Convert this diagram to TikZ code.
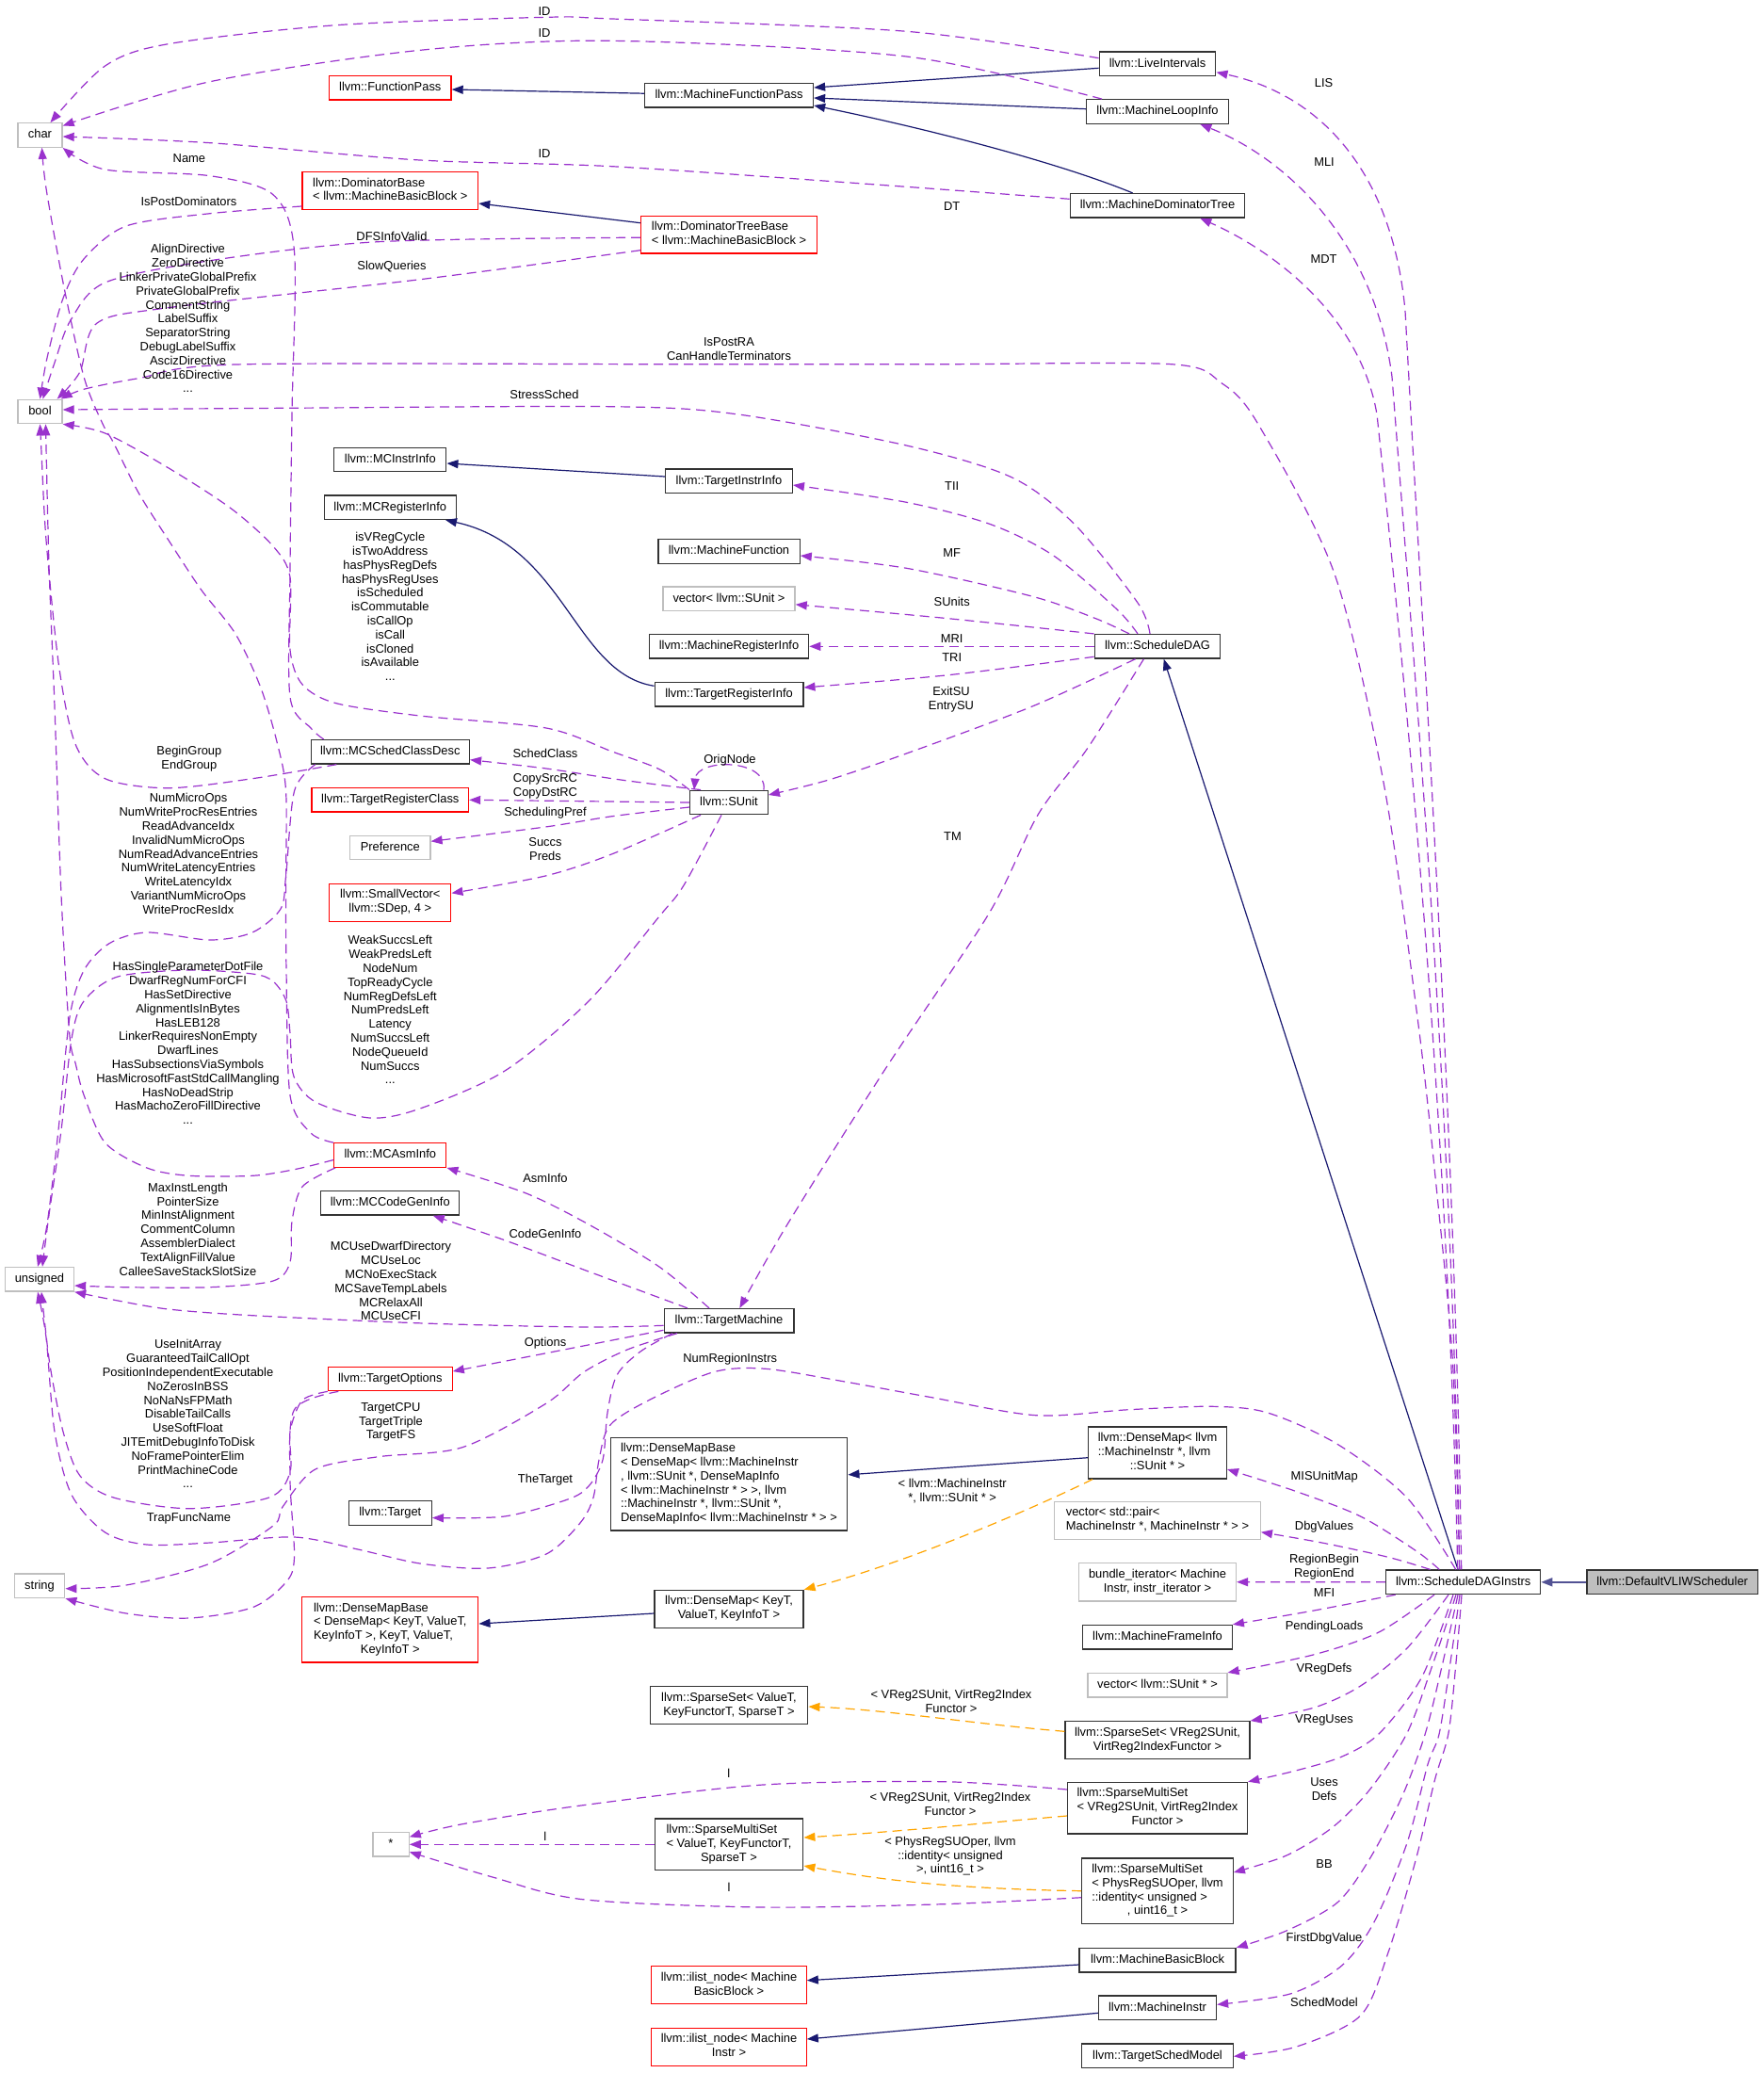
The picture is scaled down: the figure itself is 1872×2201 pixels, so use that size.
\documentclass[tikz,border=0pt]{standalone}
\usepackage{fontspec}
\setmainfont{Liberation Sans}
\usetikzlibrary{arrows.meta}
\definecolor{ecol}{HTML}{9A32CD}
\definecolor{icol}{HTML}{191970}
\definecolor{tcol}{HTML}{FFA500}
\definecolor{gcol}{HTML}{BFBFBF}
\definecolor{kcol}{HTML}{333333}
\newcommand{\ml}[2]{\begin{tabular}{@{}l@{}}#1\\\multicolumn{1}{@{}c@{}}{#2}\end{tabular}}
\tikzset{
  box/.style={line width=1.3pt, fill=white, inner sep=0pt},
  one/.style={minimum height=25.5pt, text height=9.4pt, text depth=2.6pt},
  blk/.style={draw=kcol},
  rdb/.style={draw=red},
  gyb/.style={draw=gcol},
  lab/.style={inner sep=0pt, align=center},
  tip/.style={-{Triangle[length=12pt,width=9pt]}},
  ue/.style={draw=ecol, line width=1.2pt, dash pattern=on 10pt off 6pt, tip},
  ie/.style={draw=icol, line width=1.2pt, tip},
  te/.style={draw=tcol, line width=1.2pt, dash pattern=on 10pt off 6pt, tip},
}
\begin{document}
\begin{tikzpicture}[x=1pt,y=-1pt,font=\fontsize{12.9pt}{14.8pt}\selectfont]
\useasboundingbox (0,0) rectangle (1872,2201);
\fill[white] (0,0) rectangle (1872,2201);

% ---------- column A
\node[box,one,gyb,minimum width=47pt] (char) at (42.5,143.5) {char};
\node[box,one,gyb,minimum width=47pt] (bool) at (42.5,437) {bool};
\node[box,one,gyb,minimum width=73pt] (unsigned) at (42,1358.3) {unsigned};
\node[box,one,gyb,minimum width=53.5pt] (string) at (42,1683.7) {string};
% ---------- column B
\node[box,one,rdb,minimum width=129.5pt] (FP) at (414.3,93.2) {llvm::FunctionPass};
\node[box,rdb,minimum width=186.6pt,minimum height=39.6pt] (DB) at (414.3,202.5) {\ml{llvm::DominatorBase}{< llvm::MachineBasicBlock >}};
\node[box,one,blk,minimum width=119pt] (MCII) at (414.3,488) {llvm::MCInstrInfo};
\node[box,one,blk,minimum width=139.7pt] (MCRI) at (414.3,538.7) {llvm::MCRegisterInfo};
\node[box,one,blk,minimum width=168.3pt] (MCSCD) at (414.3,798.3) {llvm::MCSchedClassDesc};
\node[box,one,rdb,minimum width=166.5pt] (TRC) at (414.3,849.3) {llvm::TargetRegisterClass};
\node[box,one,gyb,minimum width=85.3pt] (Pref) at (414.3,900) {Preference};
\node[box,rdb,minimum width=129pt,minimum height=40pt] (SV) at (414.3,958.3) {\ml{llvm::SmallVector<}{llvm::SDep, 4 >}};
\node[box,one,rdb,minimum width=119pt] (MCAI) at (414.3,1226.5) {llvm::MCAsmInfo};
\node[box,one,blk,minimum width=147pt] (MCCGI) at (414.3,1277.3) {llvm::MCCodeGenInfo};
\node[box,one,rdb,minimum width=131.7pt] (TO) at (414.3,1464) {llvm::TargetOptions};
\node[box,one,blk,minimum width=88pt] (Tgt) at (414.3,1606.5) {llvm::Target};
\node[box,rdb,minimum width=187pt,minimum height=69.3pt] (DMBK) at (414.3,1730.3) {\ml{llvm::DenseMapBase\\< DenseMap< KeyT, ValueT,\\KeyInfoT >, KeyT, ValueT,}{KeyInfoT >}};
\node[box,one,gyb,minimum width=38.3pt] (star) at (415,1958.3) {*};
% ---------- column C
\node[box,one,blk,minimum width=179pt] (MFP) at (774,101.2) {llvm::MachineFunctionPass};
\node[box,rdb,minimum width=186.6pt,minimum height=39.7pt] (DTB) at (774,249.2) {\ml{llvm::DominatorTreeBase}{< llvm::MachineBasicBlock >}};
\node[box,one,blk,minimum width=134.7pt] (TII) at (774,510.7) {llvm::TargetInstrInfo};
\node[box,one,blk,minimum width=150.3pt] (MF) at (774,585.5) {llvm::MachineFunction};
\node[box,one,gyb,minimum width=140.2pt] (vSU) at (774,635.8) {vector< llvm::SUnit >};
\node[box,one,blk,minimum width=169.2pt] (MRI) at (774,686.3) {llvm::MachineRegisterInfo};
\node[box,one,blk,minimum width=157.7pt] (TRI) at (774,737.3) {llvm::TargetRegisterInfo};
\node[box,one,blk,minimum width=82.6pt] (SU) at (774,852) {llvm::SUnit};
\node[box,one,blk,minimum width=137.7pt] (TM) at (774,1402.3) {llvm::TargetMachine};
\node[box,blk,minimum width=251.6pt,minimum height=98.3pt] (DMBM) at (774,1575.8) {\ml{llvm::DenseMapBase\\< DenseMap< llvm::MachineInstr\\ *, llvm::SUnit *, DenseMapInfo\\< llvm::MachineInstr * > >, llvm\\::MachineInstr *, llvm::SUnit *,}{DenseMapInfo< llvm::MachineInstr * > >}};
\node[box,blk,minimum width=158pt,minimum height=40pt] (DMK) at (774,1708.4) {\ml{llvm::DenseMap< KeyT,}{ValueT, KeyInfoT >}};
\node[box,blk,minimum width=167.5pt,minimum height=40pt] (SSV) at (774,1810.7) {\ml{llvm::SparseSet< ValueT,}{KeyFunctorT, SparseT >}};
\node[box,blk,minimum width=157.6pt,minimum height=54.7pt] (SMSV) at (774,1958.3) {\ml{llvm::SparseMultiSet\\< ValueT, KeyFunctorT,}{SparseT >}};
\node[box,rdb,minimum width=164.4pt,minimum height=40pt] (ILB) at (774,2107.7) {\ml{llvm::ilist\_node< Machine}{BasicBlock >}};
\node[box,rdb,minimum width=164.4pt,minimum height=40pt] (ILI) at (774,2173.3) {\ml{llvm::ilist\_node< Machine}{Instr >}};
% ---------- column D
\node[box,one,blk,minimum width=123.6pt] (LI) at (1229,67.7) {llvm::LiveIntervals};
\node[box,one,blk,minimum width=150.4pt] (MLI) at (1229,118.5) {llvm::MachineLoopInfo};
\node[box,one,blk,minimum width=185.4pt] (MDT) at (1229,218.3) {llvm::MachineDominatorTree};
\node[box,one,blk,minimum width=133.5pt] (SD) at (1229,686.3) {llvm::ScheduleDAG};
\node[box,blk,minimum width=146.7pt,minimum height=55pt] (DMMI) at (1229,1542.5) {\ml{llvm::DenseMap< llvm\\::MachineInstr *, llvm}{::SUnit * >}};
\node[box,gyb,minimum width=218.6pt,minimum height=40pt] (vpair) at (1229,1614.3) {\ml{vector< std::pair<}{MachineInstr *, MachineInstr * > >}};
\node[box,gyb,minimum width=167pt,minimum height=40.7pt] (bundle) at (1229,1679.7) {\ml{bundle\_iterator< Machine}{Instr, instr\_iterator >}};
\node[box,one,blk,minimum width=158.5pt] (MFI) at (1229,1738.2) {llvm::MachineFrameInfo};
\node[box,one,gyb,minimum width=147.8pt] (vSUp) at (1229,1789.3) {vector< llvm::SUnit * >};
\node[box,blk,minimum width=196pt,minimum height=40pt] (SSVR) at (1229,1847.7) {\ml{llvm::SparseSet< VReg2SUnit,}{VirtReg2IndexFunctor >}};
\node[box,blk,minimum width=191pt,minimum height=54.7pt] (SMSVR) at (1229,1919.7) {\ml{llvm::SparseMultiSet\\< VReg2SUnit, VirtReg2Index}{Functor >}};
\node[box,blk,minimum width=160.5pt,minimum height=69.3pt] (SMSP) at (1229,2007.7) {\ml{llvm::SparseMultiSet\\< PhysRegSUOper, llvm\\::identity< unsigned >}{, uint16\_t >}};
\node[box,one,blk,minimum width=166pt] (MBB) at (1229,2081.3) {llvm::MachineBasicBlock};
\node[box,one,blk,minimum width=125pt] (MI) at (1229,2131.8) {llvm::MachineInstr};
\node[box,one,blk,minimum width=160.5pt] (TSM) at (1229,2182.7) {llvm::TargetSchedModel};
% ---------- columns E, F
\node[box,one,blk,minimum width=164pt] (SDI) at (1553.7,1679.8) {llvm::ScheduleDAGInstrs};
\node[box,one,blk,fill=gcol,minimum width=181.7pt] (DVS) at (1775.7,1679.8) {llvm::DefaultVLIWScheduler};

% ================= inheritance edges
\draw[ie] ([yshift=-4.6pt]LI.west) -- ([yshift=8.2pt]MFP.east);
\draw[ie] ([yshift=2.8pt]MLI.west) -- ([yshift=-2.8pt]MFP.east);
\draw[ie] ([xshift=-26.4pt]MDT.north) .. controls (1130,175) and (1000,140) .. ([yshift=-10.8pt]MFP.east);
\draw[ie] ([yshift=2pt]MFP.west) -- ([yshift=-1.8pt]FP.east);
\draw[ie] ([yshift=12.5pt]DTB.west) -- ([yshift=-13.5pt]DB.east);
\draw[ie] ([yshift=4.7pt]TII.west) -- ([yshift=-4pt]MCII.east);
\draw[ie] ([yshift=9pt]TRI.west) .. controls (610,715) and (600,580) .. ([xshift=58.7pt]MCRI.south);
\draw[ie] ([xshift=-5.7pt]SDI.north) -- ([xshift=6.7pt]SD.south);
\draw[ie, draw=icol!75, line width=1.8pt] (DVS.west) -- (SDI.east);
\draw[ie] ([yshift=-5.2pt]DMMI.west) -- ([yshift=10pt]DMBM.east);
\draw[ie] ([yshift=-4.6pt]DMK.west) -- ([yshift=6.3pt]DMBK.east);
\draw[ie] ([yshift=-4.7pt]MBB.west) -- ([yshift=5pt]ILB.east);
\draw[ie] ([yshift=-5.5pt]MI.west) -- ([yshift=8.3pt]ILI.east);

% ================= template edges
\draw[te] ([xshift=5pt]DMMI.south west) .. controls (1090,1605) and (960,1660) .. (DMK.north east);
\draw[te] ([yshift=9.4pt]SSVR.west) .. controls (1030,1830) and (940,1815) .. ([yshift=-1.3pt]SSV.east);
\draw[te] ([yshift=-8.3pt]SMSVR.west) .. controls (1040,1936) and (950,1945) .. ([yshift=7.3pt]SMSV.east);
\draw[te] (SMSP.west) .. controls (1000,2005) and (930,1995) .. ([yshift=-22.7pt]SMSV.east);

% ================= usage edges
\draw[ue] plot[smooth] coordinates {([yshift=6pt]LI.west) (962.5,33.3) (650,20) (580,18.3) (357,26.7) (178.6,46.7) (111.6,70) ([xshift=11pt]char.north)};
\draw[ue] plot[smooth] coordinates {([xshift=-59pt]MLI.north) (962.5,60) (650,43.3) (446,53.3) (223,86.7) ([yshift=10pt]char.east)};
\draw[ue] plot[smooth] coordinates {([yshift=7pt]MDT.west) (940,196.7) (650,176.7) (446,170) (223,151.7) ([yshift=-1.5pt]char.east)};
\draw[ue] plot[smooth] coordinates {([xshift=-70.6pt]MCSCD.north) (330,773) (308,740) (308,606.7) (310,440) (312.5,266.7) (290,206.7) (223,186.7) (111.6,180) (char.south east)};
\draw[ue] plot[smooth] coordinates {(MCAI.north west) (330,1203) (308,1163) (304,1030) (303.6,940) (303.6,840) (294.6,790) (276.8,730) (250,673) (214,626.7) (178.6,573) (147,523) (120.5,470) (109,450) (89,400) (67,300) (49,200) ([xshift=2pt]char.south)};
\draw[ue] plot[smooth] coordinates {([yshift=-16.5pt]DB.west) (223,226.7) (134,240) (89,275) (67,316.7) (50,380) (bool.north)};
\draw[ue] plot[smooth] coordinates {([yshift=-3pt]DTB.west) (401.8,256.7) (223,276.7) (111.6,300) (75,340) (58,385) ([xshift=3pt]bool.north)};
\draw[ue] plot[smooth] coordinates {([yshift=-16.5pt]DTB.west) (446,296.7) (178.6,326.7) (102.7,343.3) (84.8,395) ([xshift=-6pt]bool.north east)};
\draw[ue] plot[smooth] coordinates {([xshift=-4pt]SDI.north) (1542.7,1450) (1527,1279) (1506,1087.8) (1469.4,832.7) (1417,609.4) (1335.7,450) (1297,406.7) (1243.7,386.7) (1000,386.7) (700,386.7) (250,387) (147,401.7) (89,413.3) ([xshift=-2pt]bool.north east)};
\draw[ue] plot[smooth] coordinates {([xshift=-8pt]SD.north) (1208,640) (1141,556.7) (1074,506.7) (962.5,473) (783.9,440) (650,431.7) (300,433.3) ([yshift=2pt]bool.east)};
\draw[ue] plot[smooth] coordinates {([xshift=-21pt]SD.north) (1185.7,646.7) (1118.7,590) (1051.8,556.7) (962.5,533.3) ([yshift=-4.3pt]TII.east)};
\draw[ue] plot[smooth] coordinates {([xshift=-30pt]SD.north) (1163.4,656.7) (1096.4,633.3) (962.5,603.3) ([yshift=-4.5pt]MF.east)};
\draw[ue] plot[smooth] coordinates {(SD.north west) (1007,656.7) ([yshift=-6pt]vSU.east)};
\draw[ue] (SD.west) -- (MRI.east);
\draw[ue] plot[smooth] coordinates {([yshift=-11pt]SD.west) (1007,716.7) ([yshift=7.3pt]TRI.east)};
\draw[ue] plot[smooth] coordinates {([xshift=-23.5pt]SD.south) (1096,750) (962.5,800) (880,828) ([yshift=8pt]SU.east)};
\draw[ue] plot[smooth] coordinates {([xshift=-14.6pt]SD.south) (1154.8,794.4) (1102.4,864.5) (1050,970) (940,1135) (836,1300) ([xshift=11.3pt]TM.north)};
\draw[ue] plot[smooth] coordinates {(SU.north west) (700,816.7) (650,798) (580,773) (446,760) (357,746.7) (321,726.7) (308,690) (308,613) (290,580) (245.5,540) (178.6,496.7) (111.6,460) (bool.south east)};
\draw[ue] plot[smooth] coordinates {([xshift=-30pt]SU.north) (700,833.3) (650,826.7) (580,816) ([yshift=-8.4pt]MCSCD.east)};
\draw[ue] (SU.west) -- (TRC.east);
\draw[ue] plot[smooth] coordinates {([yshift=-5pt]SU.west) (650,866.7) (579,878) ([yshift=6.7pt]Pref.east)};
\draw[ue] plot[smooth] coordinates {([xshift=-30pt]SU.south) (650,906.7) (579,930) ([yshift=10pt]SV.east)};
\draw[ue] ([xshift=37pt]SU.north) .. controls (815,805) and (740,805) .. ([xshift=-37pt]SU.north);
\draw[ue] plot[smooth] coordinates {([xshift=-8pt]SU.south) (726,940) (700,973) (625,1063) (536,1137) (446,1177) (393,1187) (335,1170) (312,1143) (308,1097) (304,1063) (290,1042) (268,1034) (200,1030) (125,1037) (89,1063) (76,1103) (65,1200) (52,1290) ([xshift=3pt]unsigned.north)};
\draw[ue] plot[smooth] coordinates {([xshift=-79.5pt]MCSCD.south) (312.5,840) (303.6,930) (298,965) (268,990) (223,998) (156,990) (116,1001.7) (89.3,1030) (74,1080) (62,1200) (50,1300) ([xshift=-2pt]unsigned.north)};
\draw[ue] plot[smooth] coordinates {([xshift=-57pt]MCSCD.south) (268,826.7) (178.6,836.7) (111.6,826.7) (80,790) (62.5,706.7) (49,573.3) (44,480) (bool.south)};
\draw[ue] plot[smooth] coordinates {([yshift=-5pt]MCAI.west) (312.5,1241.7) (268,1248.3) (201,1248.3) (156,1240) (111.6,1213.3) (89.3,1163.3) (80.4,1130) (73.7,1096.7) (65,950) (58,750) (52,600) ([xshift=6pt]bool.south)};
\draw[ue] plot[smooth] coordinates {([xshift=2pt]MCAI.south west) (321,1260) (310,1296.7) (308,1340) (290,1360) (223,1366.7) (134,1366.7) ([yshift=-6.7pt]unsigned.east)};
\draw[ue] plot[smooth] coordinates {([xshift=-21pt]TM.north) (700,1345) (625,1300) (558,1266.7) (MCAI.south east)};
\draw[ue] plot[smooth] coordinates {([xshift=-44pt]TM.north) (625,1350) (535.7,1316.7) ([xshift=45.5pt]MCCGI.south)};
\draw[ue] plot[smooth] coordinates {([yshift=-5pt]TM.west) (620,1409) (450,1405) (268,1396.7) (178.6,1390) (120,1380) (unsigned.south east)};
\draw[ue] plot[smooth] coordinates {([yshift=-10pt]TM.west) (650,1423) (580,1436.7) ([yshift=8pt]TO.east)};
\draw[ue] plot[smooth] coordinates {([xshift=-55pt]TM.south) (666,1433) (620,1456.7) (580,1490) (491,1536.7) (401.8,1546.7) (334.8,1560) (300,1600) (290,1620) (223,1660) (134,1683) ([yshift=-3pt]string.east)};
\draw[ue] plot[smooth] coordinates {([xshift=-60pt]TM.south) (680,1435) (655,1460) (645,1500) (640,1550) (625,1578) (602.7,1592) (535.7,1610) ([yshift=-5pt]Tgt.east)};
\draw[ue] plot[smooth] coordinates {(TO.south west) (321,1486.7) (308,1520) (308,1563) (285.7,1590) (201,1601.7) (120.5,1590) (84.8,1566.7) (67,1520) (53.6,1453) (47,1400) ([xshift=2pt]unsigned.south)};
\draw[ue] plot[smooth] coordinates {([xshift=-55pt]TO.south) (312.5,1496.7) (308,1570) (312.5,1653) (303.6,1680) (268,1706.7) (201,1718) (134,1713) (string.south east)};
\draw[ue] plot[smooth] coordinates {([xshift=-8pt]SDI.north) (1493.8,1590) (1420,1533.3) (1346,1500) (1287,1493.3) (1198.5,1496.7) (1100,1502.7) (987,1483.3) (895.5,1466.7) (813,1453.3) (757.8,1456.7) (688.9,1486.7) (647.6,1513.3) (636,1550) (630,1590) (616,1617) (580,1650) (518,1665) (446,1660) (380,1645) (312.5,1632) (223,1638) (156,1640) (111.6,1627) (76,1587) (58,1520) (49,1420) ([xshift=-2pt]unsigned.south)};
\draw[ue] ([xshift=-2pt]SDI.north) .. controls (1545,1200) and (1512,700) .. (1492,330) .. controls (1478,180) and (1400,100) .. ([yshift=-9pt]LI.east);
\draw[ue] ([xshift=-4pt]SDI.north) .. controls (1543,1200) and (1505,750) .. (1478,400) .. controls (1460,260) and (1370,170) .. ([xshift=45.3pt]MLI.south);
\draw[ue] ([xshift=-6pt]SDI.north) .. controls (1538,1200) and (1495,750) .. (1462,440) .. controls (1445,340) and (1360,270) .. ([xshift=45.3pt]MDT.south);
\draw[ue] plot[smooth] coordinates {([xshift=-25.4pt]SDI.north) (1503.7,1646.7) (1444.6,1610) (1375.7,1583.3) ([yshift=-17.5pt]DMMI.east)};
\draw[ue] plot[smooth] coordinates {([xshift=-35pt]SDI.north) (1474,1653.3) (1405.2,1638.3) ([yshift=-12.4pt]vpair.east)};
\draw[ue] (SDI.west) -- (bundle.east);
\draw[ue] plot[smooth] coordinates {([xshift=-72pt]SDI.south) (1395,1710) (MFI.north east)};
\draw[ue] plot[smooth] coordinates {([xshift=-30.7pt]SDI.south) (1464,1733) (1395.4,1756.7) (vSUp.north east)};
\draw[ue] plot[smooth] coordinates {([xshift=-15.7pt]SDI.south) (1494,1750) (1444.6,1790) (1395.4,1813) (SSVR.north east)};
\draw[ue] plot[smooth] coordinates {([xshift=-10.7pt]SDI.south) (1510,1780) (1465,1840) (1425,1865) (1375.7,1880) (SMSVR.north east)};
\draw[ue] plot[smooth] coordinates {([xshift=-7.7pt]SDI.south) (1522,1765) (1494,1840) (1454.5,1900) (1415,1940) (1366,1970) ([yshift=19.7pt]SMSP.east)};
\draw[ue] plot[smooth] coordinates {([xshift=-5.7pt]SDI.south) (1532,1765) (1513.5,1840) (1489,1906.7) (1454.5,1973.3) (1420,2020) (1365.8,2050) (MBB.north east)};
\draw[ue] plot[smooth] coordinates {([xshift=-3.7pt]SDI.south) (1540,1765) (1528.3,1840) (1516,1873.3) (1494,1956.7) (1459.4,2040) (1425,2086.7) (1370.8,2116.7) ([yshift=3.5pt]MI.east)};
\draw[ue] plot[smooth] coordinates {([xshift=-1.7pt]SDI.south) (1546,1765) (1538,1840) (1523.4,1890) (1503.7,1973) (1474,2073) (1444.6,2140) (1375.7,2173.3) ([yshift=-0.6pt]TSM.east)};
\draw[ue] plot[smooth] coordinates {([yshift=19.7pt]SMSVR.west) (1001.6,1891.7) (810,1895) (619,1916.7) (491,1936.7) ([yshift=8pt]star.east)};
\draw[ue] (SMSV.west) -- (star.east);
\draw[ue] plot[smooth] coordinates {([yshift=-7pt]SMSP.west) (1001.6,2021.7) (810,2025) (619,2016.7) (523,1993) ([yshift=-8pt]star.east)};

% ================= labels
\node[lab] (l1) at (578,11.7) {ID};
\node[lab] (l2) at (578,35) {ID};
\node[lab] (l3) at (578,163.3) {ID};
\node[lab] (l4) at (200.9,168.3) {Name};
\node[lab] (l5) at (200.4,214.3) {IsPostDominators};
\node[lab] (l6) at (416,251) {DFSInfoValid};
\node[lab] (l7) at (416,283.3) {SlowQueries};
\node[lab] (l8) at (199.5,338.3) {AlignDirective\\ZeroDirective\\LinkerPrivateGlobalPrefix\\PrivateGlobalPrefix\\CommentString\\LabelSuffix\\SeparatorString\\DebugLabelSuffix\\AscizDirective\\Code16Directive\\...};
\node[lab] (l9) at (578,419) {StressSched};
\node[lab] (l10) at (774,370.8) {IsPostRA\\CanHandleTerminators};
\node[lab] (l11) at (1010.7,219) {DT};
\node[lab] (l12) at (1405.6,88.3) {LIS};
\node[lab] (l13) at (1406,172.3) {MLI};
\node[lab] (l14) at (1405.6,275.3) {MDT};
\node[lab] (l15) at (414.3,644) {isVRegCycle\\isTwoAddress\\hasPhysRegDefs\\hasPhysRegUses\\isScheduled\\isCommutable\\isCallOp\\isCall\\isCloned\\isAvailable\\...};
\node[lab] (l16) at (1010.7,516.3) {TII};
\node[lab] (l17) at (1010.7,587) {MF};
\node[lab] (l18) at (1010.7,639.3) {SUnits};
\node[lab] (l19) at (1010.7,678.3) {MRI};
\node[lab] (l20) at (1010.7,698.3) {TRI};
\node[lab] (l21) at (1010,742.5) {ExitSU\\EntrySU};
\node[lab] (l22) at (775,806.7) {OrigNode};
\node[lab] (l23) at (579,800) {SchedClass};
\node[lab] (l24) at (579,834.8) {CopySrcRC\\CopyDstRC};
\node[lab] (l25) at (579,863.3) {SchedulingPref};
\node[lab] (l26) at (579,901.2) {Succs\\Preds};
\node[lab] (l27) at (200.9,805.3) {BeginGroup\\EndGroup};
\node[lab] (l28) at (200,906.5) {NumMicroOps\\NumWriteProcResEntries\\ReadAdvanceIdx\\InvalidNumMicroOps\\NumReadAdvanceEntries\\NumWriteLatencyEntries\\WriteLatencyIdx\\VariantNumMicroOps\\WriteProcResIdx};
\node[lab] (l29) at (1011.5,888.3) {TM};
\node[lab] (l30) at (414.3,1072.3) {WeakSuccsLeft\\WeakPredsLeft\\NodeNum\\TopReadyCycle\\NumRegDefsLeft\\NumPredsLeft\\Latency\\NumSuccsLeft\\NodeQueueId\\NumSuccs\\...};
\node[lab] (l31) at (199.5,1107.7) {HasSingleParameterDotFile\\DwarfRegNumForCFI\\HasSetDirective\\AlignmentIsInBytes\\HasLEB128\\LinkerRequiresNonEmpty\\DwarfLines\\HasSubsectionsViaSymbols\\HasMicrosoftFastStdCallMangling\\HasNoDeadStrip\\HasMachoZeroFillDirective\\...};
\node[lab] (l32) at (579,1251) {AsmInfo};
\node[lab] (l33) at (579,1310) {CodeGenInfo};
\node[lab] (l34) at (199.5,1305.1) {MaxInstLength\\PointerSize\\MinInstAlignment\\CommentColumn\\AssemblerDialect\\TextAlignFillValue\\CalleeSaveStackSlotSize};
\node[lab] (l35) at (415,1360.3) {MCUseDwarfDirectory\\MCUseLoc\\MCNoExecStack\\MCSaveTempLabels\\MCRelaxAll\\MCUseCFI};
\node[lab] (l36) at (579,1426.5) {Options};
\node[lab] (l37) at (199.5,1501.3) {UseInitArray\\GuaranteedTailCallOpt\\PositionIndependentExecutable\\NoZerosInBSS\\NoNaNsFPMath\\DisableTailCalls\\UseSoftFloat\\JITEmitDebugInfoToDisk\\NoFramePointerElim\\PrintMachineCode\\...};
\node[lab] (l38) at (415,1510) {TargetCPU\\TargetTriple\\TargetFS};
\node[lab] (l39) at (579,1570.7) {TheTarget};
\node[lab] (l40) at (200.4,1612.7) {TrapFuncName};
\node[lab] (l41) at (775.2,1443.3) {NumRegionInstrs};
\node[lab] (l42) at (1011.2,1583.3) {< llvm::MachineInstr\\*, llvm::SUnit * >};
\node[lab] (l43) at (1406.2,1568.3) {MISUnitMap};
\node[lab] (l44) at (1406,1620.7) {DbgValues};
\node[lab] (l45) at (1406,1663.8) {RegionBegin\\RegionEnd};
\node[lab] (l46) at (1406,1690.7) {MFI};
\node[lab] (l47) at (1406,1726.7) {PendingLoads};
\node[lab] (l48) at (1406,1771.7) {VRegDefs};
\node[lab] (l49) at (1406,1826.7) {VRegUses};
\node[lab] (l50) at (1010,1806.5) {< VReg2SUnit, VirtReg2Index\\Functor >};
\node[lab] (l51) at (1009,1915.2) {< VReg2SUnit, VirtReg2Index\\Functor >};
\node[lab] (l52) at (1009,1970.7) {< PhysRegSUOper, llvm\\::identity< unsigned\\>, uint16\_t >};
\node[lab] (l53) at (1406,1899.8) {Uses\\Defs};
\node[lab] (l54) at (1406,1979.3) {BB};
\node[lab] (l55) at (1406,2058.3) {FirstDbgValue};
\node[lab] (l56) at (1406,2126) {SchedModel};
\node[lab] (l57) at (773.9,1882.7) {l};
\node[lab] (l58) at (578.7,1950) {l};
\node[lab] (l59) at (774,2003.3) {l};
\end{tikzpicture}
\end{document}
